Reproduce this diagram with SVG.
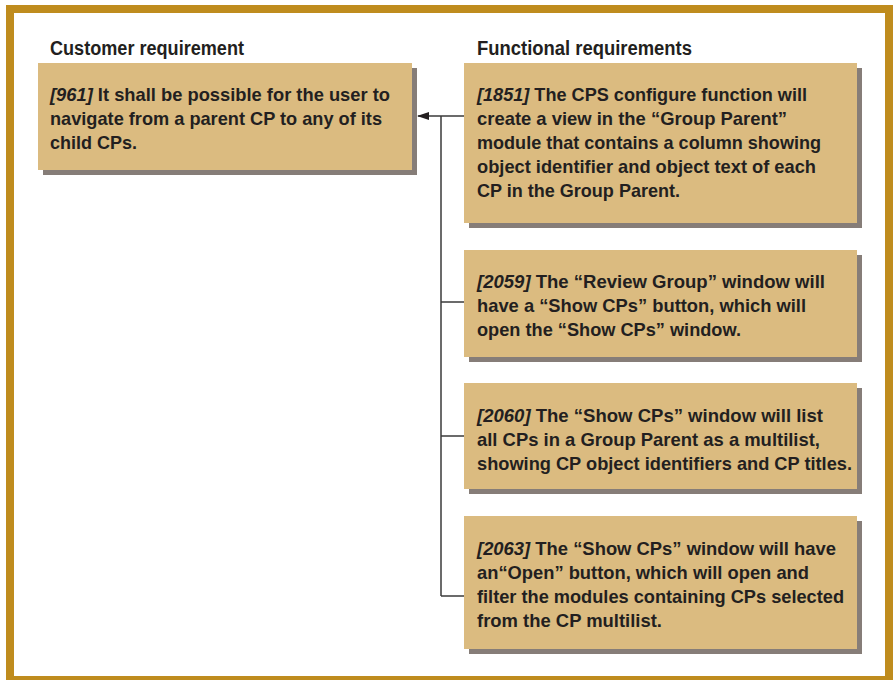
<svg xmlns="http://www.w3.org/2000/svg" width="896" height="680" viewBox="0 0 896 680">
<style>
.frame{fill:#ffffff;stroke:#bf8c1e;stroke-width:8}
.box{fill:#dbbb80}
.shadow{fill:#867d78}
.t{font-family:"Liberation Sans Narrow","Liberation Sans","DejaVu Sans",sans-serif;font-weight:bold;font-size:19px;fill:#231f20}
.h{font-family:"Liberation Sans Narrow","Liberation Sans","DejaVu Sans",sans-serif;font-weight:bold;font-size:19.5px;fill:#231f20}
.id{font-style:italic}
.conn{fill:none;stroke:#3a3a3a;stroke-width:1.5}
</style>
<defs>
<marker id="arr" markerWidth="12" markerHeight="8" refX="11" refY="4" orient="auto" markerUnits="userSpaceOnUse">
<path d="M0,0 L12,4 L0,8 Z" fill="#231f20"/>
</marker>
</defs>
<rect class="frame" x="10" y="9" width="879" height="671"/>
<text class="h" x="50" y="55" textLength="194" lengthAdjust="spacingAndGlyphs">Customer requirement</text>
<text class="h" x="477" y="55" textLength="215" lengthAdjust="spacingAndGlyphs">Functional requirements</text>

<g id="connectors">
<path class="conn" d="M441,596 L441,116"/>
<path class="conn" d="M464,116 L418,116" marker-end="url(#arr)"/>
<path class="conn" d="M441,302 L464,302"/>
<path class="conn" d="M441,436 L464,436"/>
<path class="conn" d="M441,596 L464,596"/>
</g>

<g id="req961">
<rect class="shadow" x="43" y="68" width="374" height="107"/>
<rect class="box" x="38" y="63" width="374" height="107"/>
<text class="t" x="50" y="101" textLength="340" lengthAdjust="spacingAndGlyphs"><tspan class="id">[961]</tspan> It shall be possible for the user to</text>
<text class="t" x="50" y="125" textLength="332" lengthAdjust="spacingAndGlyphs">navigate from a parent CP to any of its</text>
<text class="t" x="50" y="149" textLength="87" lengthAdjust="spacingAndGlyphs">child CPs.</text>
</g>

<g id="req1851">
<rect class="shadow" x="469" y="68" width="393" height="160"/>
<rect class="box" x="464" y="63" width="393" height="160"/>
<text class="t" x="477" y="101" textLength="330" lengthAdjust="spacingAndGlyphs"><tspan class="id">[1851]</tspan> The CPS configure function will</text>
<text class="t" x="477" y="125" textLength="310" lengthAdjust="spacingAndGlyphs">create a view in the “Group Parent”</text>
<text class="t" x="477" y="149" textLength="344" lengthAdjust="spacingAndGlyphs">module that contains a column showing</text>
<text class="t" x="477" y="173" textLength="339" lengthAdjust="spacingAndGlyphs">object identifier and object text of each</text>
<text class="t" x="477" y="197" textLength="203" lengthAdjust="spacingAndGlyphs">CP in the Group Parent.</text>
</g>

<g id="req2059">
<rect class="shadow" x="469" y="255" width="393" height="107"/>
<rect class="box" x="464" y="250" width="393" height="107"/>
<text class="t" x="477" y="288" textLength="348" lengthAdjust="spacingAndGlyphs"><tspan class="id">[2059]</tspan> The “Review Group” window will</text>
<text class="t" x="477" y="312" textLength="329" lengthAdjust="spacingAndGlyphs">have a “Show CPs” button, which will</text>
<text class="t" x="477" y="336" textLength="264" lengthAdjust="spacingAndGlyphs">open the “Show CPs” window.</text>
</g>

<g id="req2060">
<rect class="shadow" x="469" y="388" width="393" height="106"/>
<rect class="box" x="464" y="383" width="393" height="106"/>
<text class="t" x="477" y="422" textLength="346" lengthAdjust="spacingAndGlyphs"><tspan class="id">[2060]</tspan> The “Show CPs” window will list</text>
<text class="t" x="477" y="446" textLength="343" lengthAdjust="spacingAndGlyphs">all CPs in a Group Parent as a multilist,</text>
<text class="t" x="477" y="470" textLength="375" lengthAdjust="spacingAndGlyphs">showing CP object identifiers and CP titles.</text>
</g>

<g id="req2063">
<rect class="shadow" x="469" y="521" width="393" height="133"/>
<rect class="box" x="464" y="516" width="393" height="133"/>
<text class="t" x="477" y="555" textLength="359" lengthAdjust="spacingAndGlyphs"><tspan class="id">[2063]</tspan> The “Show CPs” window will have</text>
<text class="t" x="477" y="579" textLength="332" lengthAdjust="spacingAndGlyphs">an“Open” button, which will open and</text>
<text class="t" x="477" y="603" textLength="367" lengthAdjust="spacingAndGlyphs">filter the modules containing CPs selected</text>
<text class="t" x="477" y="627" textLength="185" lengthAdjust="spacingAndGlyphs">from the CP multilist.</text>
</g>
</svg>
